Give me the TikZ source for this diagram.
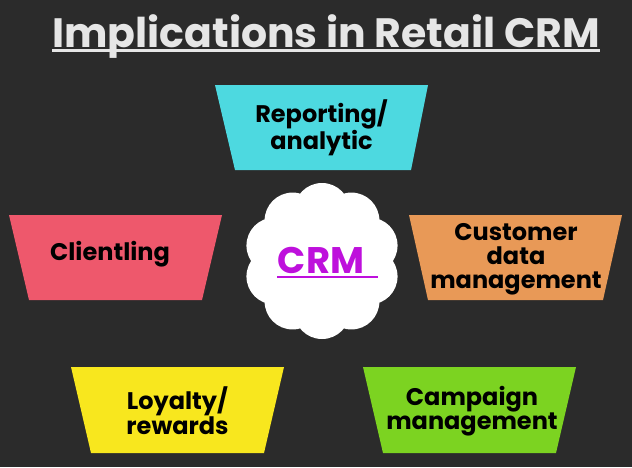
\documentclass[tikz,border=0pt]{standalone}
\usepackage{fontspec}
\setmainfont{Poppins}
\usetikzlibrary{calc}
\definecolor{bg}{HTML}{2B2B2B}
\definecolor{titlegray}{HTML}{E6E6E6}
\definecolor{cyanbox}{HTML}{4DD9E0}
\definecolor{redbox}{HTML}{EE586C}
\definecolor{orangebox}{HTML}{E89957}
\definecolor{yellowbox}{HTML}{F8E71E}
\definecolor{greenbox}{HTML}{7CD321}
\definecolor{crmpurple}{HTML}{BE10DC}
\begin{document}
\begin{tikzpicture}[x=1pt,y=-1pt,
  lbl/.style={font=\bfseries\fontsize{24}{24}\selectfont, align=center, text=black, inner sep=0pt},
  ttl/.style={font=\bfseries\fontsize{41}{43}\selectfont, text=titlegray, inner sep=0pt, anchor=base}]
\fill[bg] (0,0) rectangle (632,467);
\useasboundingbox (0,0) rectangle (632,467);
% title
\node[ttl] (title) at (326,47) {Implications in Retail CRM};
\draw[titlegray, line width=3pt] (52,50) -- (600,50);
% trapezoids
\fill[cyanbox] (215,85) -- (428,85) -- (411,170) -- (235,170) -- cycle;
\fill[redbox] (9,215) -- (222,215) -- (202,300) -- (29,300) -- cycle;
\fill[orangebox] (409,215) -- (622,215) -- (603,300) -- (428,300) -- cycle;
\fill[yellowbox] (71,367) -- (284,367) -- (264,453) -- (91,453) -- cycle;
\fill[greenbox] (363,367) -- (576,367) -- (556,453) -- (383,453) -- cycle;
\node[lbl] (rep) at (321.5,128) {Reporting/\\analytic};
\node[lbl] (cli) at (110,254) {Clientling};
\node[lbl] (cus) at (516,259) {Customer\\data\\management};
\node[lbl] (loy) at (177.5,411) {Loyalty/\\rewards};
\node[lbl] (cam) at (472,411) {Campaign\\management};
% cloud
\coordinate (cc) at (322,261);
\fill[white] (cc) circle (54pt);
\foreach \a in {90,126,...,414} {
  \fill[white] ($(cc)+(\a:50)$) circle (28pt);
}
\node[font=\bfseries\fontsize{37}{39}\selectfont, text=crmpurple, inner sep=0pt, anchor=base] (crm) at (321,273) {CRM};
\draw[crmpurple, line width=2.5pt] (277,277) -- (378,277);
\end{tikzpicture}
\end{document}
